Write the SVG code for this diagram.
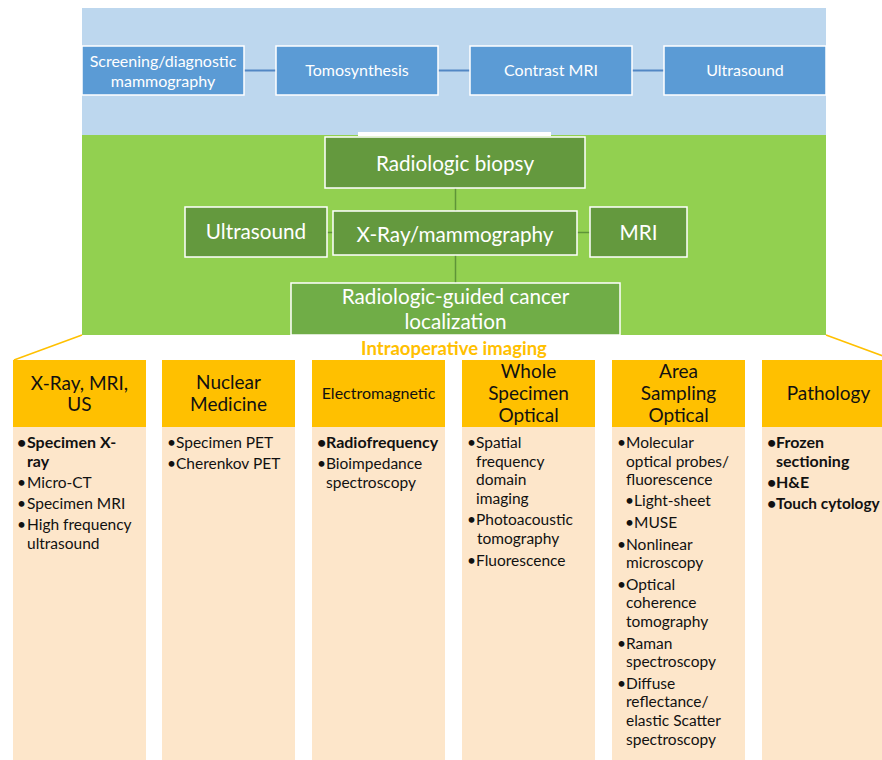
<svg xmlns="http://www.w3.org/2000/svg" width="882" height="760" viewBox="0 0 882 760">
<style>
text{font-family:Lato,"Open Sans","Liberation Sans",sans-serif}
.bb{fill:#5B9BD5;stroke:#FFFFFF;stroke-width:1.5}
.bt{fill:#FFFFFF;font-size:16px;text-anchor:middle}
.gb{fill:#64993E;stroke:#FFFFFF;stroke-width:1.5}
.gb2{fill:#70AD47;stroke:#FFFFFF;stroke-width:1.5}
.gt{fill:#FFFFFF;font-size:20.7px;text-anchor:middle}
.hd{fill:#FFC000}
.bd{fill:#FDE6CA}
.ht{fill:#111111;font-size:19px;text-anchor:middle}
.tx{fill:#111111;font-size:15.5px}
.b{font-weight:bold;font-size:16px}
.cb{stroke:#5287C4;stroke-width:2;fill:none}
.cg{stroke:#5E9438;stroke-width:1.5;fill:none}
.co{stroke:#FFC000;stroke-width:1.5;fill:none}
</style>
<rect x="0" y="0" width="882" height="760" fill="#FFFFFF"/>
<g id="band-blue"><rect x="82" y="8" width="744" height="127" fill="#BDD7EE"/></g>
<g id="band-green"><rect x="82" y="135" width="744" height="200" fill="#92D050"/><rect x="358" y="132" width="193" height="4" fill="#FFFFFF"/></g>
<g id="connectors">
<line class="cb" x1="244" y1="70.5" x2="276" y2="70.5"/>
<line class="cb" x1="438" y1="70.5" x2="470" y2="70.5"/>
<line class="cb" x1="632" y1="70.5" x2="664" y2="70.5"/>
<line class="cg" x1="455.5" y1="188" x2="455.5" y2="211"/>
<line class="cg" x1="455.5" y1="255" x2="455.5" y2="283"/>
<line class="cg" x1="327" y1="232.5" x2="333" y2="232.5"/>
<line class="cg" x1="577" y1="232.5" x2="590" y2="232.5"/>
<line class="co" x1="82" y1="335" x2="14" y2="360"/>
<line class="co" x1="826" y1="335" x2="894" y2="360"/>
</g>
<g id="n-screening"><rect class="bb" x="82" y="46" width="162" height="49"/><text class="bt" x="163" y="66.5">Screening/diagnostic</text><text class="bt" x="163" y="86.5">mammography</text></g>
<g id="n-tomo"><rect class="bb" x="276" y="46" width="162" height="49"/><text class="bt" x="357" y="76">Tomosynthesis</text></g>
<g id="n-cmri"><rect class="bb" x="470" y="46" width="162" height="49"/><text class="bt" x="551" y="76">Contrast MRI</text></g>
<g id="n-us-top"><rect class="bb" x="664" y="46" width="162" height="49"/><text class="bt" x="745" y="76">Ultrasound</text></g>
<g id="n-biopsy"><rect class="gb" x="325" y="137" width="260" height="51"/><text class="gt" x="455" y="170.5">Radiologic biopsy</text></g>
<g id="n-us"><rect class="gb" x="185" y="207" width="142" height="50"/><text class="gt" x="256" y="239">Ultrasound</text></g>
<g id="n-xray"><rect class="gb" x="333" y="211" width="244" height="44"/><text class="gt" x="455" y="241.5">X-Ray/mammography</text></g>
<g id="n-mri"><rect class="gb" x="590" y="207" width="97" height="50"/><text class="gt" x="638.5" y="239.5">MRI</text></g>
<g id="n-loc"><rect class="gb2" x="291" y="283" width="329" height="52"/><text class="gt" x="455.5" y="304">Radiologic-guided cancer</text><text class="gt" x="455.5" y="329">localization</text></g>
<g id="label-intraop"><text x="454" y="354.5" style="fill:#FFC000;font-size:18.5px;font-weight:bold;text-anchor:middle">Intraoperative imaging</text></g>
<g id="col-1">
<rect class="hd" x="13" y="360" width="133" height="67"/><rect class="bd" x="13" y="427" width="133" height="333"/>
<text class="ht" x="79.5" y="390">X-Ray, MRI,</text><text class="ht" x="79.5" y="411">US</text>
<text class="tx b" x="17" y="448">•</text><text class="tx b" x="27" y="448">Specimen X-</text>
<text class="tx b" x="27" y="467">ray</text>
<text class="tx" x="17" y="488">•</text><text class="tx" x="27" y="488">Micro-CT</text>
<text class="tx" x="17" y="509">•</text><text class="tx" x="27" y="509">Specimen MRI</text>
<text class="tx" x="17" y="530">•</text><text class="tx" x="27" y="530">High frequency</text>
<text class="tx" x="27" y="549">ultrasound</text>
</g>
<g id="col-2">
<rect class="hd" x="162" y="360" width="133" height="67"/><rect class="bd" x="162" y="427" width="133" height="333"/>
<text class="ht" x="228.5" y="389">Nuclear</text><text class="ht" x="228.5" y="411">Medicine</text>
<text class="tx" x="167" y="448">•</text><text class="tx" x="176" y="448">Specimen PET</text>
<text class="tx" x="167" y="469">•</text><text class="tx" x="176" y="469">Cherenkov PET</text>
</g>
<g id="col-3">
<rect class="hd" x="312" y="360" width="133" height="67"/><rect class="bd" x="312" y="427" width="133" height="333"/>
<text class="ht" x="378.5" y="399" style="font-size:16px">Electromagnetic</text>
<text class="tx b" x="317" y="448">•</text><text class="tx b" x="326" y="448">Radiofrequency</text>
<text class="tx" x="317" y="469">•</text><text class="tx" x="326" y="469">Bioimpedance</text>
<text class="tx" x="326" y="488">spectroscopy</text>
</g>
<g id="col-4">
<rect class="hd" x="462" y="360" width="133" height="67"/><rect class="bd" x="462" y="427" width="133" height="333"/>
<text class="ht" x="528.5" y="378">Whole</text><text class="ht" x="528.5" y="400">Specimen</text><text class="ht" x="528.5" y="422">Optical</text>
<text class="tx" x="467" y="448">•</text><text class="tx" x="476" y="448">Spatial</text>
<text class="tx" x="476" y="466.5">frequency</text>
<text class="tx" x="476" y="485">domain</text>
<text class="tx" x="476" y="504">imaging</text>
<text class="tx" x="467" y="525">•</text><text class="tx" x="476" y="525">Photoacoustic</text>
<text class="tx" x="477" y="543.5">tomography</text>
<text class="tx" x="467" y="565.5">•</text><text class="tx" x="476" y="565.5">Fluorescence</text>
</g>
<g id="col-5">
<rect class="hd" x="612" y="360" width="133" height="67"/><rect class="bd" x="612" y="427" width="133" height="333"/>
<text class="ht" x="678.5" y="378">Area</text><text class="ht" x="678.5" y="400">Sampling</text><text class="ht" x="678.5" y="422">Optical</text>
<text class="tx" x="617" y="448">•</text><text class="tx" x="626" y="448">Molecular</text>
<text class="tx" x="626" y="466.5">optical probes/</text>
<text class="tx" x="626" y="485">fluorescence</text>
<text class="tx" x="625" y="505.5">•</text><text class="tx" x="634" y="505.5">Light-sheet</text>
<text class="tx" x="625" y="528">•</text><text class="tx" x="634" y="528">MUSE</text>
<text class="tx" x="617" y="549.5">•</text><text class="tx" x="626" y="549.5">Nonlinear</text>
<text class="tx" x="626" y="568">microscopy</text>
<text class="tx" x="617" y="590">•</text><text class="tx" x="626" y="590">Optical</text>
<text class="tx" x="626" y="608">coherence</text>
<text class="tx" x="626" y="627">tomography</text>
<text class="tx" x="617" y="649">•</text><text class="tx" x="626" y="649">Raman</text>
<text class="tx" x="626" y="667">spectroscopy</text>
<text class="tx" x="617" y="689">•</text><text class="tx" x="626" y="689">Diffuse</text>
<text class="tx" x="626" y="707">reflectance/</text>
<text class="tx" x="626" y="726">elastic Scatter</text>
<text class="tx" x="626" y="744.5">spectroscopy</text>
</g>
<g id="col-6">
<rect class="hd" x="762" y="360" width="133" height="67"/><rect class="bd" x="762" y="427" width="133" height="333"/>
<text class="ht" x="828.5" y="400">Pathology</text>
<text class="tx b" x="767" y="448">•</text><text class="tx b" x="776" y="448">Frozen</text>
<text class="tx b" x="776" y="466.5">sectioning</text>
<text class="tx b" x="767" y="488">•</text><text class="tx b" x="776" y="488">H&amp;E</text>
<text class="tx b" x="767" y="509">•</text><text class="tx b" x="776" y="509" style="font-size:15.4px">Touch cytology</text>
</g>
</svg>
